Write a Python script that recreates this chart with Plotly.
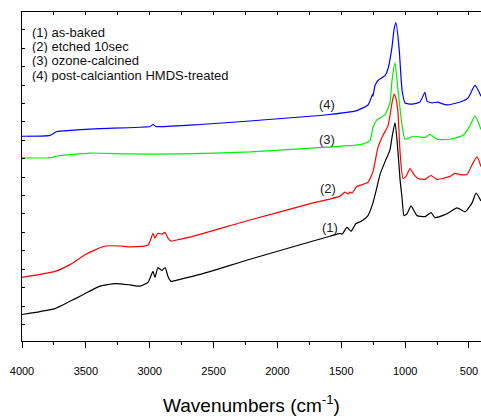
import plotly.graph_objects as go

# ---------------- data ----------------
wn_1 = [4000, 3859, 3742, 3585, 3483, 3389, 3272, 3154, 3076, 3013, 2974, 2959, 2935, 2904, 2880,
        2857, 2833, 2763, 2606, 2215, 1721, 1588, 1510, 1494, 1455, 1424, 1385, 1346, 1291, 1252,
        1228, 1197, 1158, 1119, 1103, 1079, 1056, 1040, 1024, 1009, 985, 954, 907, 845, 797, 766,
        672, 594, 531, 476, 445, 406]
abs_1 = [0.144, 0.160, 0.176, 0.229, 0.266, 0.298, 0.312, 0.305, 0.298, 0.319, 0.378, 0.346, 0.399,
         0.383, 0.399, 0.351, 0.324, 0.335, 0.362, 0.444, 0.543, 0.569, 0.585, 0.580, 0.617, 0.596,
         0.638, 0.649, 0.681, 0.750, 0.814, 0.904, 0.973, 1.037, 1.106, 1.186, 1.027, 0.878, 0.777,
         0.681, 0.691, 0.734, 0.681, 0.676, 0.697, 0.670, 0.691, 0.723, 0.702, 0.750, 0.803, 0.761]

wn_2 = [4000, 3859, 3742, 3624, 3507, 3428, 3350, 3233, 3154, 3013, 2974, 2959, 2935, 2904, 2880,
        2857, 2833, 2763, 2685, 2215, 1721, 1588, 1510, 1471, 1447, 1432, 1416, 1377, 1330, 1291,
        1252, 1212, 1173, 1134, 1119, 1103, 1087, 1072, 1056, 1040, 1017, 993, 962, 931, 899, 845,
        797, 751, 649, 610, 570, 516, 476, 437, 406]
abs_2 = [0.346, 0.362, 0.378, 0.415, 0.468, 0.495, 0.516, 0.516, 0.511, 0.521, 0.585, 0.559, 0.585,
         0.580, 0.590, 0.559, 0.543, 0.553, 0.564, 0.657, 0.750, 0.771, 0.787, 0.809, 0.798, 0.809,
         0.803, 0.840, 0.851, 0.862, 0.920, 1.053, 1.117, 1.170, 1.223, 1.293, 1.340, 1.319, 1.239,
         1.027, 0.883, 0.894, 0.936, 0.904, 0.883, 0.878, 0.899, 0.878, 0.894, 0.910, 0.904, 0.904,
         0.957, 1.000, 0.947]

wn_3 = [4000, 3781, 3726, 3468, 3154, 2763, 2215, 1612, 1385, 1314, 1275, 1252, 1220, 1158, 1119,
        1103, 1079, 1056, 1024, 1001, 938, 845, 805, 751, 649, 547, 492, 453, 406]
abs_3 = [0.995, 0.995, 1.005, 1.021, 1.016, 1.016, 1.027, 1.053, 1.064, 1.074, 1.090, 1.160, 1.202,
         1.229, 1.293, 1.415, 1.511, 1.362, 1.170, 1.096, 1.112, 1.106, 1.122, 1.096, 1.096, 1.117,
         1.170, 1.223, 1.149]

wn_4 = [4000, 3781, 3726, 3624, 3389, 2998, 2974, 2951, 2606, 2215, 1612, 1385, 1291, 1267, 1256,
        1252, 1236, 1212, 1158, 1134, 1103, 1087, 1072, 1048, 1024, 1001, 946, 884, 845, 829, 789,
        751, 672, 570, 508, 453, 406]
abs_4 = [1.112, 1.117, 1.138, 1.144, 1.154, 1.165, 1.176, 1.165, 1.176, 1.195, 1.229, 1.250, 1.282,
         1.319, 1.340, 1.330, 1.388, 1.415, 1.441, 1.479, 1.596, 1.691, 1.729, 1.596, 1.362, 1.293,
         1.287, 1.298, 1.351, 1.303, 1.293, 1.298, 1.282, 1.298, 1.319, 1.388, 1.330]

legend_lines = ["(1) as-baked", "(2) etched 10sec", "(3) ozone-calcined",
                "(4) post-calciantion HMDS-treated"]
curve_labels = ["(1)", "(2)", "(3)", "(4)"]
label_wn = [1588, 1604, 1612, 1612]
label_abs = [0.617, 0.830, 1.096, 1.282]
x_ticks = [4000, 3500, 3000, 2500, 2000, 1500, 1000, 500]

series = [(wn_1, abs_1, "#000000"), (wn_2, abs_2, "#ff0000"),
          (wn_3, abs_3, "#00ee00"), (wn_4, abs_4, "#0000ff")]

FONT = "Liberation Sans, Arial, sans-serif"
X_RANGE = [4000, 406]
Y_RANGE = [0, 1.787]

fig = go.Figure()
for (w, a, c), name in zip(series, legend_lines):
    fig.add_trace(go.Scatter(x=w, y=a, mode="lines", name=name,
                             line=dict(color=c, width=1.2, shape="spline", smoothing=0.5)))

# invisible trace so the top axis is drawn
fig.add_trace(go.Scatter(x=[X_RANGE[0]], y=[Y_RANGE[0]], xaxis="x2", yaxis="y",
                         mode="markers", marker=dict(opacity=0), showlegend=False,
                         hoverinfo="skip"))

for t, w, a in zip(curve_labels, label_wn, label_abs):
    fig.add_annotation(x=w, y=a, text=t, showarrow=False,
                       font=dict(family=FONT, size=13, color="#222222"))

legend_y = [0.940, 0.898, 0.854, 0.810]
for t, yy in zip(legend_lines, legend_y):
    fig.add_annotation(xref="paper", yref="paper", x=0.017, y=yy, text=t,
                       showarrow=False, xanchor="left", yanchor="middle", height=14,
                       font=dict(family=FONT, size=13, color="#111111"))

fig.update_layout(
    width=481, height=416,
    margin=dict(l=22, r=0, t=12, b=68),
    paper_bgcolor="white", plot_bgcolor="white",
    showlegend=False,
    font=dict(family=FONT, color="#000000"),
    xaxis=dict(range=X_RANGE, tickvals=x_ticks, ticks="outside", ticklen=6, tickwidth=1,
               tickcolor="black", showline=True, linecolor="black", linewidth=1.3,
               showgrid=False, zeroline=False, tickfont=dict(size=11, family=FONT),
               ticklabelstandoff=14,
               minor=dict(dtick=250, tick0=0, ticks="outside", ticklen=3, tickcolor="black"),
               title=dict(text="Wavenumbers (cm<sup>-1</sup>)",
                          font=dict(size=19, family=FONT), standoff=25)),
    xaxis2=dict(range=X_RANGE, overlaying="x", side="top", tickvals=x_ticks, ticks="inside",
                ticklen=3, tickcolor="black", showline=True, linecolor="black", linewidth=1.3,
                showticklabels=False, showgrid=False, zeroline=False,
                minor=dict(dtick=250, tick0=0, ticks="inside", ticklen=3, tickcolor="black")),
    yaxis=dict(range=Y_RANGE, showline=True, linecolor="black", linewidth=1.3, ticks="inside",
               ticklen=3, tickcolor="black", tick0=0.09, dtick=0.1, showticklabels=False,
               showgrid=False, zeroline=False),
)

fig.write_html("out.html")
